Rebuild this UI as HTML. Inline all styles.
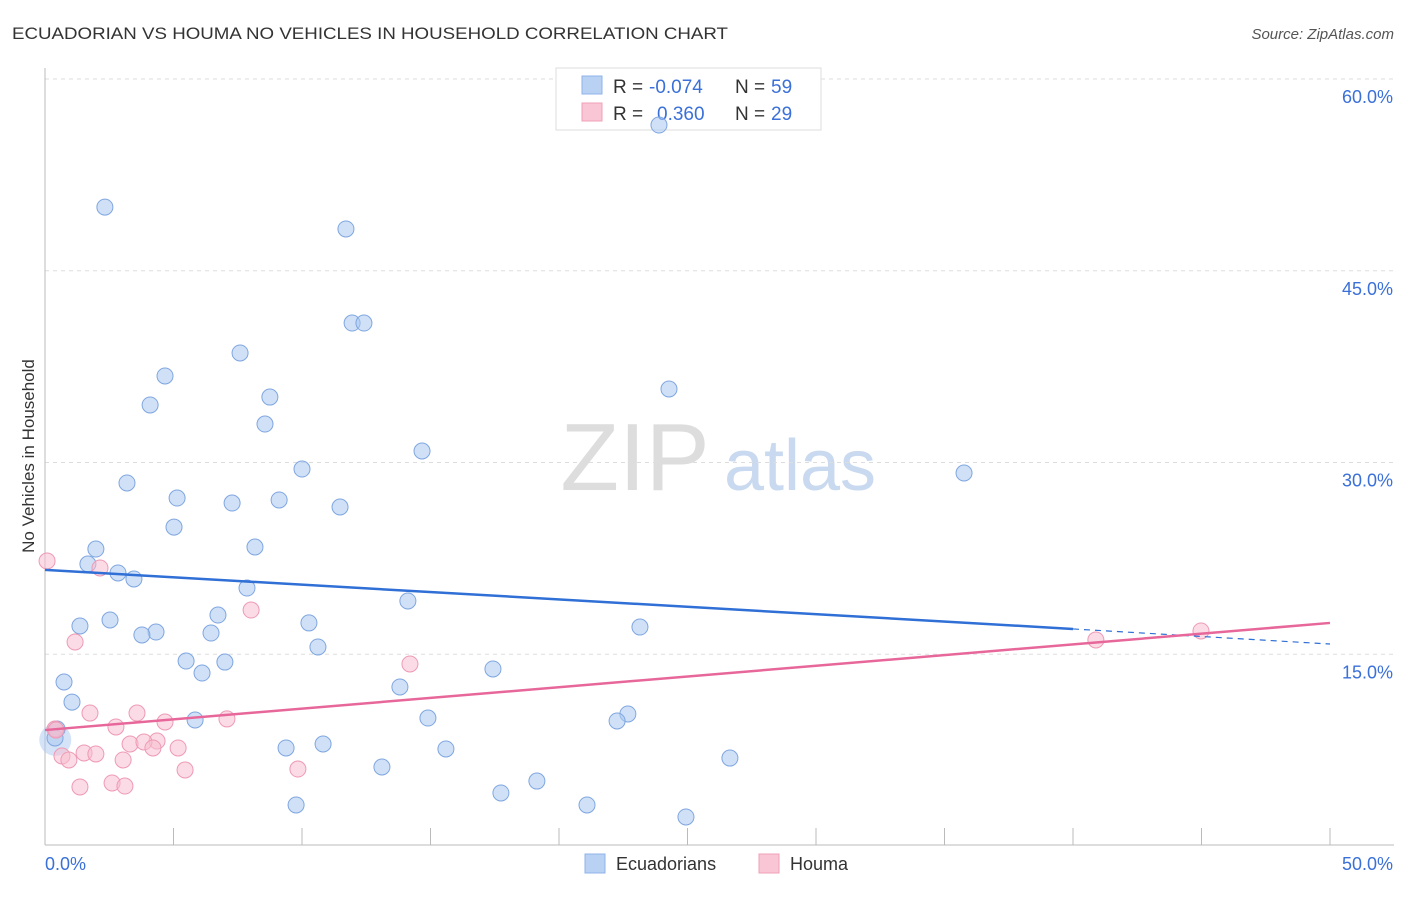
<!DOCTYPE html>
<html><head><meta charset="utf-8"><style>
body{margin:0;background:#fff;font-family:"Liberation Sans",sans-serif;}
svg text{font-family:"Liberation Sans",sans-serif;}
</style></head><body>
<svg id="chart" width="1406" height="892" xmlns="http://www.w3.org/2000/svg">
<text x="12" y="39" font-size="17" fill="#333" textLength="716" lengthAdjust="spacingAndGlyphs">ECUADORIAN VS HOUMA NO VEHICLES IN HOUSEHOLD CORRELATION CHART</text>
<text x="1394" y="39" font-size="15" fill="#555" text-anchor="end" font-style="italic">Source: ZipAtlas.com</text>
<text transform="translate(34,456) rotate(-90)" font-size="17" fill="#333" text-anchor="middle">No Vehicles in Household</text>
<g><text x="635" y="490" font-size="96" fill="#ddd" text-anchor="middle" font-family="Liberation Serif,serif">ZIP</text><text x="800" y="490" font-size="72" fill="#c9d9ef" text-anchor="middle">atlas</text></g>
<g id="grid"></g><g id="axes"></g>
<g>
<rect x="556" y="68" width="265" height="62" fill="#fff" stroke="#ddd"/>
<rect x="582" y="76" width="20" height="18" fill="#b9d1f3" stroke="#8fb3e8"/>
<rect x="582" y="103" width="20" height="18" fill="#f9c6d5" stroke="#f0a0b8"/>
<text x="613" y="93" font-size="19" fill="#333">R =</text>
<text x="649" y="93" font-size="19" fill="#3a70d8">-0.074</text>
<text x="735" y="93" font-size="19" fill="#333">N =</text>
<text x="771" y="93" font-size="19" fill="#3a70d8">59</text>
<text x="613" y="120" font-size="19" fill="#333">R =</text>
<text x="657" y="120" font-size="19" fill="#3a70d8">0.360</text>
<text x="735" y="120" font-size="19" fill="#333">N =</text>
<text x="771" y="120" font-size="19" fill="#3a70d8">29</text>
</g>
<g id="lines"></g><g id="pts"></g>
<g>
<rect x="585" y="854" width="20" height="19" fill="#b9d1f3" stroke="#8fb3e8"/>
<text x="616" y="870" font-size="18" fill="#333">Ecuadorians</text>
<rect x="759" y="854" width="20" height="19" fill="#f9c6d5" stroke="#f0a0b8"/>
<text x="790" y="870" font-size="18" fill="#333">Houma</text>
</g>
</svg>
<script>
const blueX=[23.89,2.33,11.71,11.95,12.41,7.59,4.67,4.09,8.75,8.56,24.28,14.67,35.76,10.00,3.19,5.14,7.28,9.11,11.48,5.02,8.17,1.98,1.67,2.84,3.46,7.86,14.12,2.53,1.36,6.73,10.27,4.32,3.77,6.46,23.15,10.62,5.49,7.00,6.11,17.43,0.74,13.81,1.05,5.84,14.90,22.68,22.26,0.47,0.39,9.38,10.82,15.60,26.65,13.11,19.14,17.74,21.09,9.77,24.94];
const blueY=[56.40,49.98,48.27,40.91,40.91,38.57,36.77,34.50,35.12,33.01,35.75,30.90,29.18,29.49,28.40,27.22,26.83,27.07,26.52,24.95,23.39,23.23,22.06,21.36,20.89,20.18,19.17,17.68,17.21,18.07,17.45,16.74,16.51,16.66,17.13,15.57,14.47,14.39,13.53,13.85,12.83,12.44,11.26,9.86,10.01,10.33,9.78,9.15,8.45,7.67,7.98,7.59,6.88,6.18,5.08,4.15,3.21,3.21,2.27];
const pinkX=[0.08,2.14,1.17,8.02,14.20,40.89,44.98,0.39,1.75,3.58,2.76,4.67,7.08,3.31,4.36,3.85,5.18,1.52,1.98,0.66,0.93,3.04,2.61,3.11,1.36,5.45,9.84,4.20,0.43];
const pinkY=[22.30,21.75,15.96,18.46,14.24,16.12,16.82,9.15,10.40,10.40,9.31,9.70,9.94,7.98,8.21,8.14,7.67,7.28,7.20,7.04,6.73,6.73,4.93,4.69,4.62,5.95,6.02,7.67,9.07];
const yTicks=[15,30,45,60];
const xTickLabels=["0.0%","50.0%"];
const blueTrend=[21.6,16.98,15.8];
const pinkTrend=[9.07,17.45];
const NS="http://www.w3.org/2000/svg";
const sx=v=>45+v*25.7, sy=v=>846-v*12.783;
function mk(t,a,p){const e=document.createElementNS(NS,t);for(const k in a)e.setAttribute(k,a[k]);p.appendChild(e);return e;}
const grid=document.getElementById('grid'),axes=document.getElementById('axes');
yTicks.forEach(t=>{
 const l=mk('line',{x1:45,x2:1394,y1:sy(t),y2:sy(t),stroke:'#ddd','stroke-dasharray':'4,4'},grid);
 
 
 const tx=mk('text',{x:1393,y:sy(t)+24,'font-size':18,fill:'#3a70d8','text-anchor':'end'},axes);
 tx.textContent=t.toFixed(1)+'%';
 
 
});
const xl=mk('line',{x1:45,x2:1394,y1:845,y2:845,stroke:'#bbb'},axes);


const yl=mk('line',{x1:45,x2:45,y1:68,y2:845,stroke:'#bbb'},axes);


for(let i=0;i<=10;i++){const t=mk('line',{x1:sx(i*5),x2:sx(i*5),y1:828,y2:845,stroke:'#bbb'},axes);
 
 }
[[0,'start',45],[50,'end',1393]].forEach((d,i)=>{const t=mk('text',{x:d[2],y:870,'font-size':18,fill:'#3a70d8','text-anchor':d[1]},axes);t.textContent=xTickLabels[i];
 
 });
const pts=document.getElementById('pts'),lines=document.getElementById('lines');
const big=mk('circle',{cx:sx(0.4),cy:sy(8.3),r:16,fill:'rgba(170,200,240,0.5)'},pts);


blueX.forEach((x,i)=>{const c=mk('circle',{cx:sx(x),cy:sy(blueY[i]),r:8,fill:'rgba(170,200,240,0.55)',stroke:'#7fa6e0','stroke-width':1},pts);
 
 });
pinkX.forEach((x,i)=>{const c=mk('circle',{cx:sx(x),cy:sy(pinkY[i]),r:8,fill:'rgba(248,190,208,0.55)',stroke:'#ee9ab5','stroke-width':1},pts);
 
 });
const b1=mk('line',{x1:sx(0),y1:sy(blueTrend[0]),x2:sx(40),y2:sy(blueTrend[1]),stroke:'#2f6fd6','stroke-width':2.5},pts);


const b2=mk('line',{x1:sx(40),y1:sy(blueTrend[1]),x2:sx(50),y2:sy(blueTrend[2]),stroke:'#2f6fd6','stroke-width':1.2,'stroke-dasharray':'6,5'},pts);


const p1=mk('line',{x1:sx(0),y1:sy(pinkTrend[0]),x2:sx(50),y2:sy(pinkTrend[1]),stroke:'#e8679a','stroke-width':2.5},pts);


</script>
</body></html>
